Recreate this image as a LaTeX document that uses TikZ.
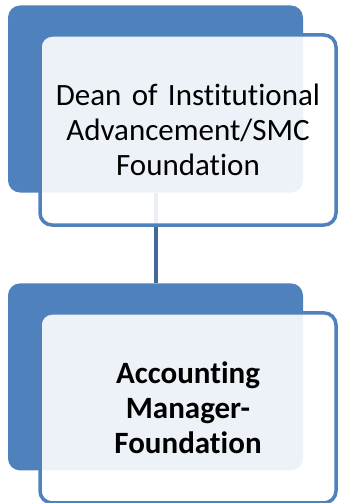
\documentclass[tikz,border=0pt]{standalone}
\usepackage{fontspec}
\setmainfont{Carlito}[Ligatures={NoCommon,NoRequired}]
\usetikzlibrary{positioning}
\definecolor{boxblue}{HTML}{4F81BD}
\definecolor{linkblue}{HTML}{41699B}

\tikzset{
	backbox/.style={rectangle, fill=boxblue, minimum width=295pt, minimum height=187pt, rounded corners=12pt, inner sep=0pt},
	frontbox/.style={rectangle, draw=boxblue, line width=3.5pt, fill=white, fill opacity=0.9, text opacity=1, minimum width=296pt, minimum height=190pt, rounded corners=12pt, inner sep=0pt, text width=290pt, align=center},
	link/.style={draw=linkblue, line width=4pt}
}

\begin{document}
\begin{tikzpicture}
	\useasboundingbox (0pt,0pt) rectangle (338pt,-503pt);
	
	\node[backbox] (back1) at (155.5pt,-99pt) {};
	\node[backbox, below=90.5pt of back1] (back2) {};
	
	\path [link] (back1.south) -- (back2.north);
	
	\node[frontbox, xshift=32.5pt, yshift=-31pt, font=\fontsize{31}{35}\selectfont] (dean) at (back1) {Dean of Institutional\\Advancement/SMC\\Foundation};
	\node[frontbox, xshift=32.5pt, yshift=-31pt, font=\fontsize{31}{35}\selectfont\bfseries] (acct) at (back2) {Accounting\\Manager-\\Foundation};
\end{tikzpicture}
\end{document}
